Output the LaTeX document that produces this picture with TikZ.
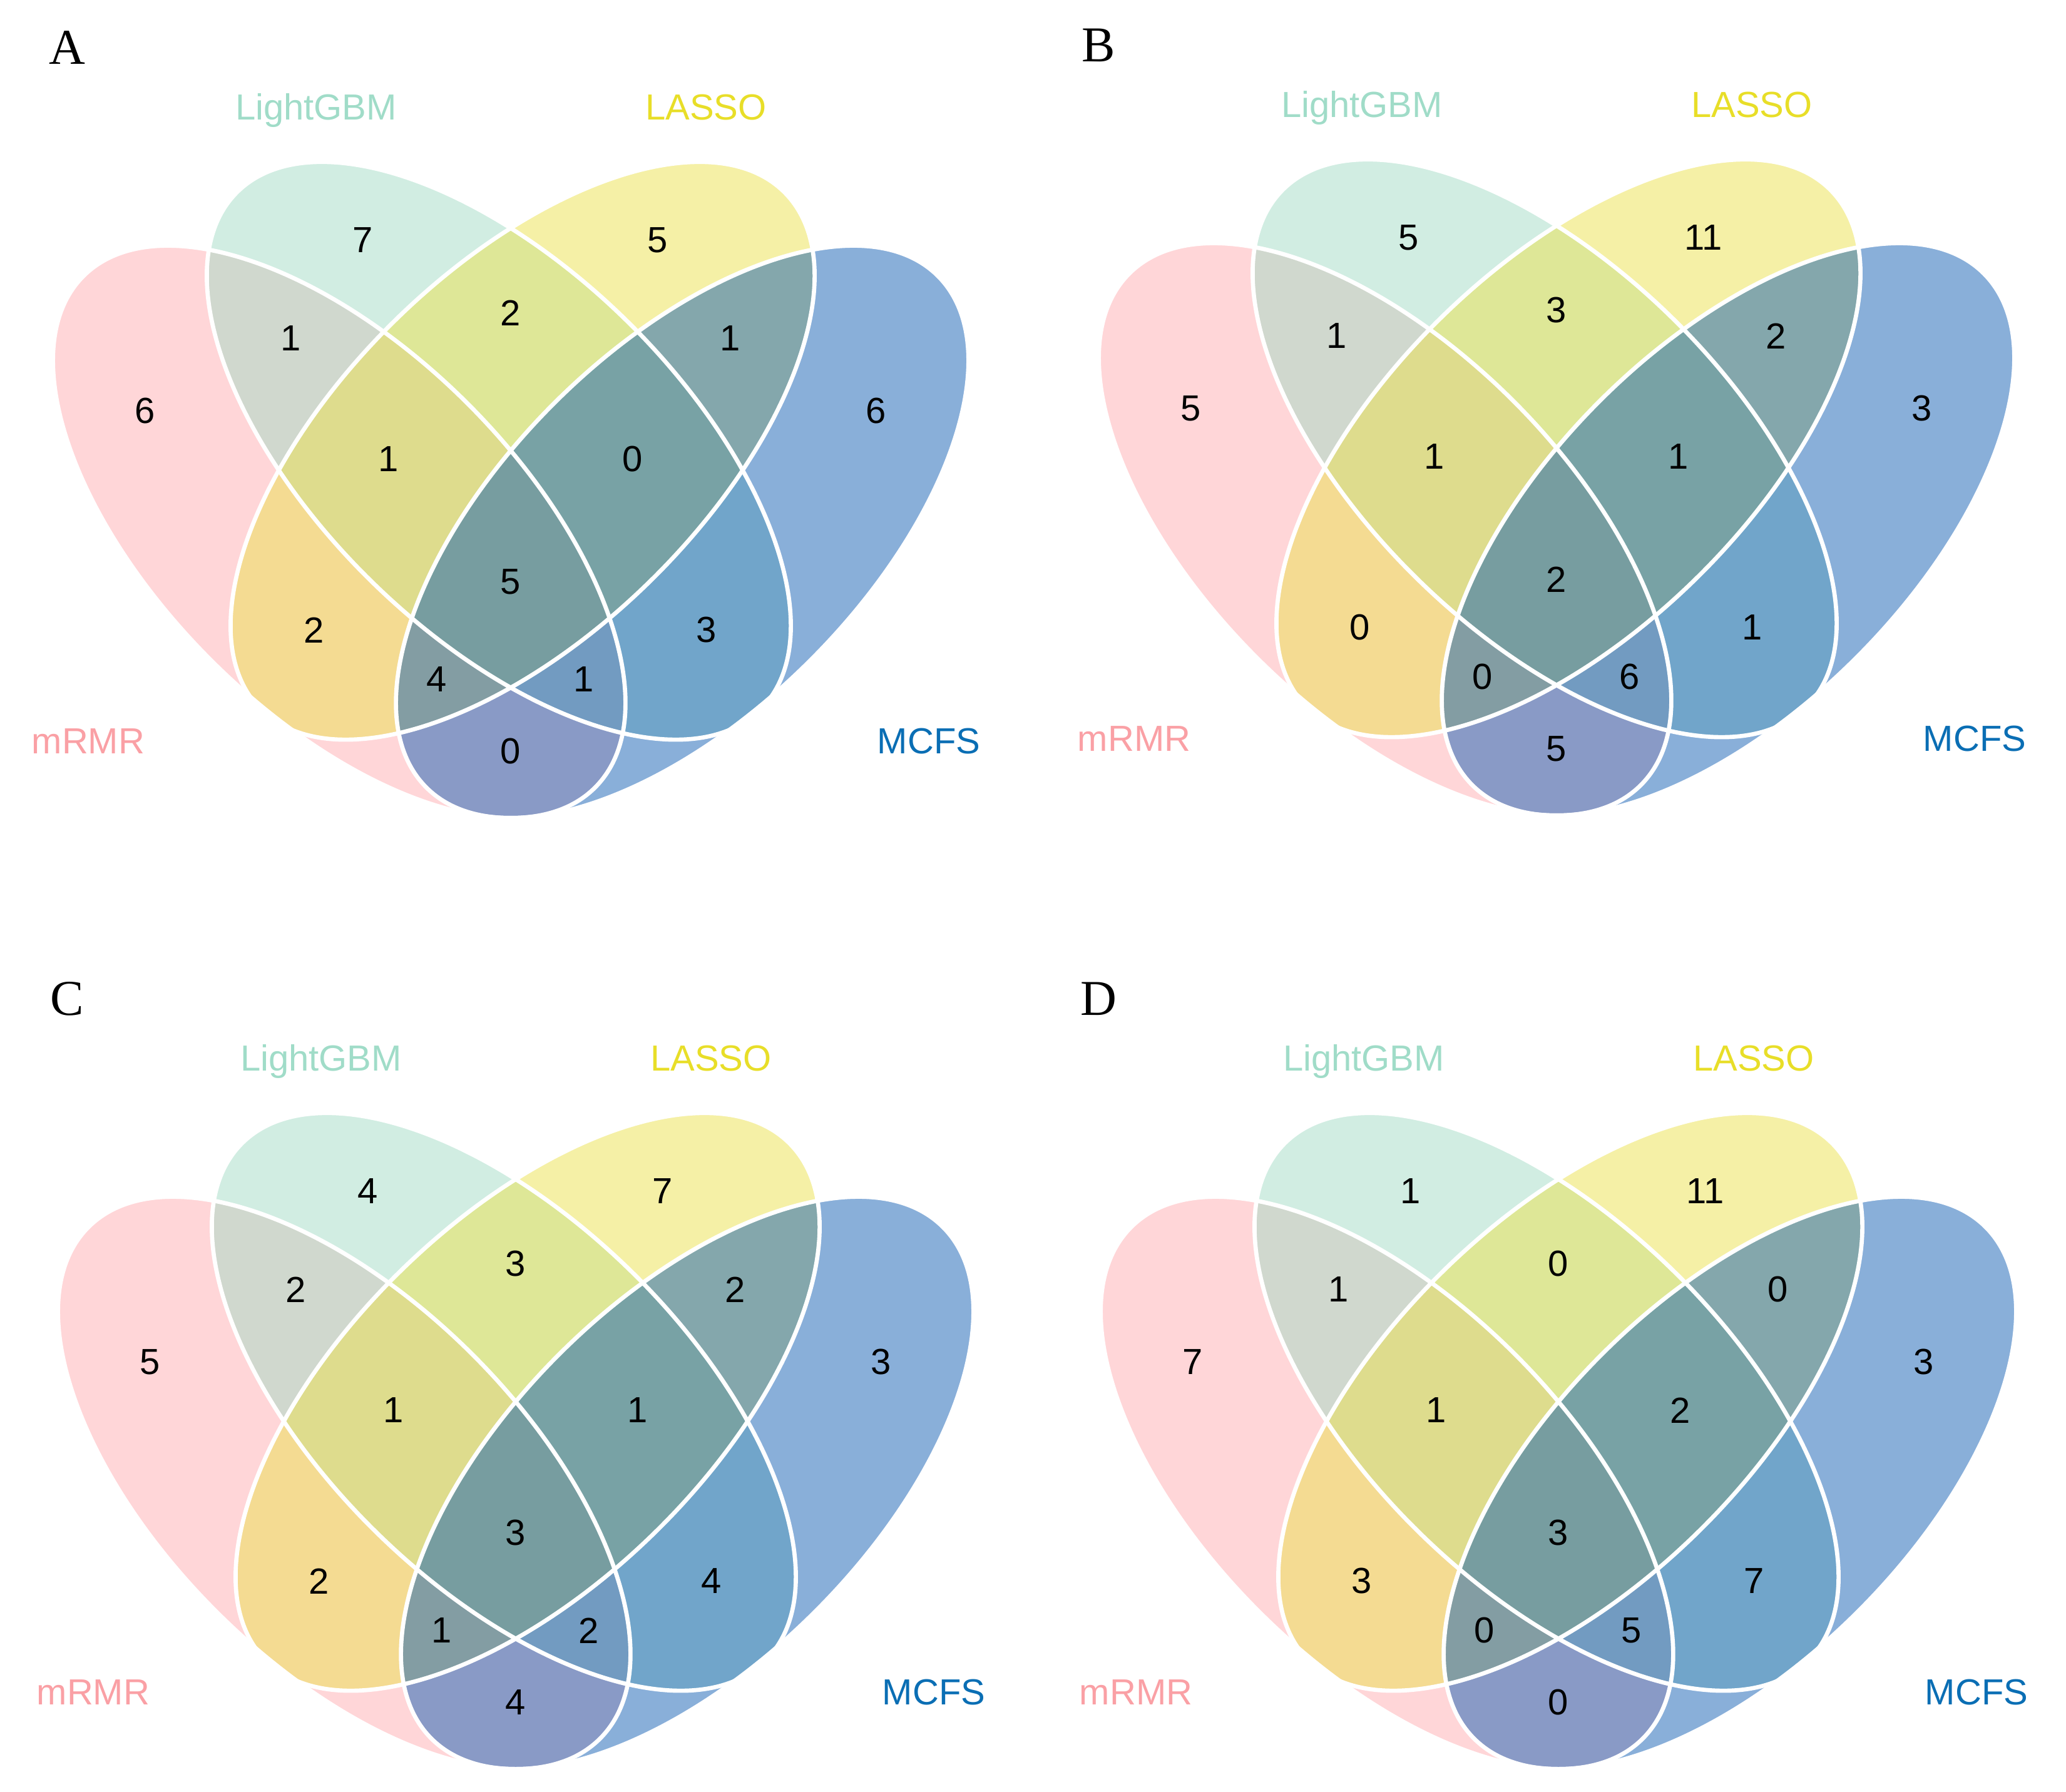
\documentclass[tikz,border=0pt]{standalone}
\usepackage{fontspec}
\setmainfont{Liberation Serif}
\newfontfamily\arialfont{Liberation Sans}

\definecolor{mrmrfill}{RGB}{255,173,177}
\definecolor{lgbmfill}{RGB}{163,219,197}
\definecolor{lassofill}{RGB}{235,225,77}
\definecolor{mcfsfill}{RGB}{20,95,180}
\definecolor{mrmrtext}{RGB}{250,160,165}
\definecolor{lgbmtext}{RGB}{160,220,200}
\definecolor{lassotext}{RGB}{232,222,40}
\definecolor{mcfstext}{RGB}{10,110,180}

\tikzset{
  setfill/.style={fill=#1, fill opacity=0.5},
  setline/.style={draw=white, line width=1.9pt},
  cnt/.style={font=\arialfont\fontsize{16.5}{19}\selectfont, inner sep=0pt},
  setname/.style={font=\arialfont\fontsize{16.5}{19}\selectfont, inner sep=0pt, anchor=base, text=#1},
  panelletter/.style={font=\fontsize{22.8}{26}\selectfont, inner sep=0pt, anchor=base}
}

% one venn panel: #1 shift, #2 prefix for names, #3 the fifteen counts
\newcommand{\vennpanel}[3]{%
  \begin{scope}[shift={#1}]
    \fill[setfill=mrmrfill] (5.42,20.14) circle [x radius=5.78, y radius=2.90, rotate=-45];
    \fill[setfill=lgbmfill] (7.97,21.435) circle [x radius=5.88, y radius=2.915, rotate=-44.5];
    \fill[setfill=lassofill] (8.35,21.435) circle [x radius=5.88, y radius=2.915, rotate=44.5];
    \fill[setfill=mcfsfill] (10.90,20.14) circle [x radius=5.78, y radius=2.90, rotate=45];
    \draw[setline] (5.42,20.14) circle [x radius=5.78, y radius=2.90, rotate=-45];
    \draw[setline] (7.97,21.435) circle [x radius=5.88, y radius=2.915, rotate=-44.5];
    \draw[setline] (8.35,21.435) circle [x radius=5.88, y radius=2.915, rotate=44.5];
    \draw[setline] (10.90,20.14) circle [x radius=5.78, y radius=2.90, rotate=45];
    \node[setname=lgbmtext] (#2lgbm) at (5.05,26.72) {LightGBM};
    \node[setname=lassotext] (#2lasso) at (11.28,26.72) {LASSO};
    \node[setname=mrmrtext] (#2mrmr) at (1.41,16.59) {mRMR};
    \node[setname=mcfstext] (#2mcfs) at (14.84,16.59) {MCFS};
    \foreach \px/\py [count=\k] in {5.80/24.80,10.51/24.80,4.65/23.23,8.16/23.64,
        11.67/23.23,2.32/22.07,6.21/21.30,10.11/21.30,14.00/22.07,
        5.02/18.57,8.16/19.34,11.29/18.57,6.98/17.78,9.33/17.78,8.16/16.63}
      \coordinate (#2p\k) at (\px,\py);
    \foreach \cnt [count=\k] in {#3}
      \node[cnt] (#2n\k) at (#2p\k) {\cnt};
  \end{scope}}

\begin{document}
\begin{tikzpicture}
  \useasboundingbox (0,0) rectangle (33.01,28.64);

  \vennpanel{(0,0)}{a}{7,5,1,2,1,6,1,0,6,2,5,3,4,1,0}
  \vennpanel{(16.71,0.04)}{b}{5,11,1,3,2,5,1,1,3,0,2,1,0,6,5}
  \vennpanel{(0.08,-15.20)}{c}{4,7,2,3,2,5,1,1,3,2,3,4,1,2,4}
  \vennpanel{(16.74,-15.20)}{d}{1,11,1,0,0,7,1,2,3,3,3,7,0,5,0}

  \node[panelletter] (lettera) at (1.07,27.61) {A};
  \node[panelletter] (letterb) at (17.55,27.65) {B};
  \node[panelletter] (letterc) at (1.07,12.41) {C};
  \node[panelletter] (letterd) at (17.55,12.41) {D};
\end{tikzpicture}
\end{document}
